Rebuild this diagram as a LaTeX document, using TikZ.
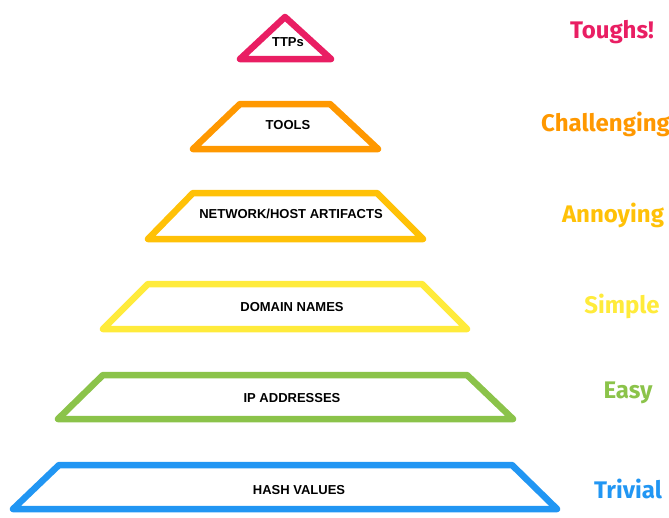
\documentclass[tikz,border=0pt]{standalone}
\usepackage{fontspec}
\newfontfamily\boxfont{Liberation Sans}
\newfontfamily\levelfont{Fira Sans}
\usetikzlibrary{positioning}
\definecolor{ttpcol}{HTML}{E91E63}
\definecolor{toolcol}{HTML}{FF9800}
\definecolor{artcol}{HTML}{FFC107}
\definecolor{domcol}{HTML}{FFEB3B}
\definecolor{ipcol}{HTML}{8BC34A}
\definecolor{hashcol}{HTML}{2196F3}
\tikzset{
  level/.style={line width=6.5pt, line join=round, line cap=round},
  boxtext/.style={font=\boxfont\bfseries\fontsize{13}{15}\selectfont, text=black},
  diff/.style={font=\levelfont\bfseries\fontsize{24}{28}\selectfont}
}
\begin{document}
\begin{tikzpicture}[x=1pt,y=-1pt]
            \useasboundingbox (0,0) rectangle (669,517);
            \draw[level, ttpcol] (240,59) -- (285,17) -- (331,59) -- cycle;
            \draw[level, toolcol] (193,149) -- (240,104) -- (330,104) -- (378,149) -- cycle;
            \draw[level, artcol] (148,239) -- (193,193) -- (377,193) -- (423,239) -- cycle;
            \draw[level, domcol] (103,329) -- (148,284) -- (422,284) -- (467,329) -- cycle;
            \draw[level, ipcol] (58,419) -- (103,375) -- (467,375) -- (513,419) -- cycle;
            \draw[level, hashcol] (13,509) -- (59,465) -- (512,465) -- (557,509) -- cycle;
            \node[boxtext] (ttp) at (288,42) {TTPs};
            \node[boxtext] (tools) at (288,125) {TOOLS};
            \node[boxtext] (art) at (291,214) {NETWORK/HOST ARTIFACTS};
            \node[boxtext] (dom) at (292,307) {DOMAIN NAMES};
            \node[boxtext] (ip) at (292,398) {IP ADDRESSES};
            \node[boxtext] (hash) at (299,490) {HASH VALUES};
            \node[diff, text=ttpcol] (tough) at (612,32) {Toughs!};
            \node[diff, text=toolcol, anchor=west, inner sep=0pt] (chal) at (541,124) {Challenging};
            \node[diff, text=artcol] (ann) at (613,215) {Annoying};
            \node[diff, text=domcol] (simp) at (622,306) {Simple};
            \node[diff, text=ipcol] (easy) at (628,393) {Easy};
            \node[diff, text=hashcol] (triv) at (628,489) {Trivial};
\end{tikzpicture}
\end{document}
